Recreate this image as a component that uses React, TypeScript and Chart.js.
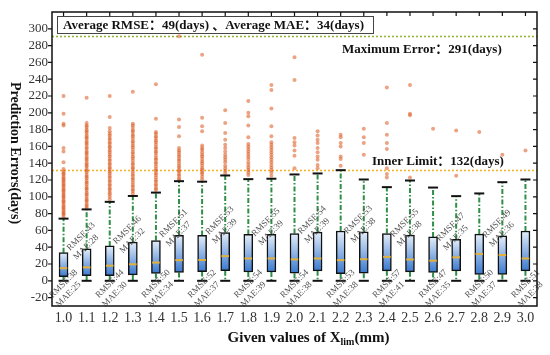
import React, { useEffect, useRef } from 'react';
import { Chart, registerables } from 'chart.js';

Chart.register(...registerables);

const categories = ['1.0', '1.1', '1.2', '1.3', '1.4', '1.5', '1.6', '1.7', '1.8', '1.9', '2.0', '2.1', '2.2', '2.3', '2.4', '2.5', '2.6', '2.7', '2.8', '2.9', '3.0'];
const yTicks = [-20, 0, 20, 40, 60, 80, 100, 120, 140, 160, 180, 200, 220, 240, 260, 280, 300];

const whiskerLow = [0, 0, 0, 0, 0, 0, 0, 0, 0, 0, 0, 0, 0, 0, 0, 0, 0, 0, 0, 0, 0];
const q1 = [5, 6, 6, 7, 8.8, 10, 11, 12, 10.5, 10.5, 9.1, 11.9, 8.5, 9.1, 11.9, 10.7, 10, 11.9, 7.5, 7.5, 11.9];
const median = [15, 16, 18, 19.7, 21.7, 24.6, 24.8, 29.4, 26.6, 26.6, 25.5, 26.6, 24.6, 25.7, 28.5, 25.4, 24, 28, 32, 30.7, 26.6];
const q3 = [33.5, 38.2, 41.5, 46, 48, 54, 54, 57.4, 55.2, 55.2, 56.2, 58, 59.3, 58.3, 56.2, 54.4, 52.2, 49.5, 55.6, 53.4, 59.3];
const whiskerHigh = [74, 85, 94, 101, 105, 118.6, 118, 125.4, 121, 121.5, 126.6, 127.8, 131.7, 120.6, 111.5, 119.4, 111, 100.8, 104, 117.4, 120.6];

const rmse = [38, 43, 44, 46, 50, 51, 52, 53, 54, 55, 54, 54, 53, 53, 57, 55, 47, 47, 50, 49, 51];
const mae = [25, 28, 30, 32, 34, 37, 37, 39, 39, 39, 38, 39, 38, 38, 41, 38, 35, 35, 37, 36, 38];

const out10 = [220, 199, 187, 185, 158, 154, 141, 133, 130, 128, 126.5, 124, 122, 120, 118.5, 116, 114, 112.5, 110, 108, 106.5, 104, 102, 100, 98.5, 96, 94, 92.5, 90, 88, 86.5, 84, 82, 80, 78.5, 76];
const out11 = [218, 188, 185, 183, 180, 178, 176, 173, 171, 169, 166, 164, 162, 159, 157, 154, 152, 150, 147, 145, 143, 140, 138, 136, 133, 131, 129, 126, 124, 122, 119, 117, 115, 112, 110, 108, 105, 103, 101, 98, 96, 94, 91, 89, 87];
const out12 = [220, 195, 182, 178, 175, 173, 170, 168, 165, 163, 160, 158, 155, 153, 150, 148, 145, 143, 140, 138, 135, 133, 130, 128, 125, 123, 120, 118, 115, 113, 110, 108, 105, 103, 100, 97];
const out13 = [225, 187, 185, 182, 179, 177, 174, 172, 169, 166, 164, 161, 159, 156, 153, 151, 148, 146, 143, 140, 138, 135, 133, 130, 127, 125, 122, 120, 117, 114, 112, 109, 107, 104];
const out14 = [234, 193, 177, 175, 172, 170, 167, 165, 162, 159, 157, 154, 152, 149, 146, 144, 141, 139, 136, 133, 131, 128, 126, 123, 120, 118, 115, 113, 110, 108];
const out15 = [291, 192, 183, 172, 158, 155, 153, 150, 148, 145, 143, 140, 137, 135, 132, 130, 127, 125, 122, 120];
const out16 = [269, 194, 184, 178, 161, 158, 156, 153, 150, 148, 145, 142, 140, 137, 134, 132, 129, 127, 124, 121];
const out17 = [203, 188, 176, 168, 162, 158, 154, 150, 147, 144, 141, 137, 134, 131, 128];
const out18 = [214, 200, 196, 185, 171, 163, 160, 157, 154, 151, 148, 145, 141, 138, 135, 132, 129, 126];
const out19 = [233, 227, 205, 184, 172, 165, 162, 159, 156, 153, 150, 147, 144, 141, 138, 135, 132, 129, 125];
const out20 = [266, 239, 170, 165, 161, 155, 149, 134];
const out21 = [178, 173, 168, 164, 158, 153, 148, 144, 138, 134];
const out22 = [174, 171, 164, 160, 148, 145, 137];
const out23 = [181, 171, 164, 150];
const out24 = [230, 188, 174, 164, 157, 134, 127, 123];
const out25 = [233, 199, 197, 123];
const out26 = [181];
const out27 = [179, 125];
const out28 = [177];
const out29 = [150];
const out30 = [155];
const outliers = [out10, out11, out12, out13, out14, out15, out16, out17, out18, out19, out20, out21, out22, out23, out24, out25, out26, out27, out28, out29, out30];

const maxError = 291;
const innerLimit = 132;
const avgRmse = 49;
const avgMae = 34;

const SERIF = '"Liberation Serif", "Times New Roman", "Noto Sans CJK SC", serif';

const decorPlugin = {
  id: 'boxDecor',
  beforeDatasetsDraw(chart: any) {
    const { ctx, chartArea: a, scales } = chart;
    const x = scales.x;
    const y = scales.y;
    ctx.save();
    const refLine = (v: number, color: string) => {
      const py = Math.round(y.getPixelForValue(v)) + 0.5;
      ctx.strokeStyle = color;
      ctx.lineWidth = 1.6;
      ctx.setLineDash([2, 2]);
      ctx.beginPath();
      ctx.moveTo(a.left, py);
      ctx.lineTo(a.right, py);
      ctx.stroke();
    };
    refLine(maxError, '#95b73a');
    refLine(innerLimit, '#f2b52a');
    ctx.strokeStyle = '#2f8f47';
    ctx.lineWidth = 2;
    ctx.setLineDash([5, 2, 1.5, 2]);
    categories.forEach((_, i) => {
      const px = x.getPixelForValue(i);
      ctx.beginPath();
      ctx.moveTo(px, y.getPixelForValue(q3[i]));
      ctx.lineTo(px, y.getPixelForValue(whiskerHigh[i]));
      ctx.moveTo(px, y.getPixelForValue(q1[i]));
      ctx.lineTo(px, y.getPixelForValue(whiskerLow[i]));
      ctx.stroke();
    });
    ctx.restore();
  },
  afterDatasetsDraw(chart: any) {
    const { ctx, scales } = chart;
    const x = scales.x;
    const y = scales.y;
    ctx.save();
    ctx.setLineDash([]);
    ctx.strokeStyle = '#111';
    ctx.lineWidth = 2;
    categories.forEach((_, i) => {
      const px = x.getPixelForValue(i);
      [whiskerHigh[i], whiskerLow[i]].forEach((v) => {
        const py = y.getPixelForValue(v);
        ctx.beginPath();
        ctx.moveTo(px - 5, py);
        ctx.lineTo(px + 5, py);
        ctx.stroke();
      });
    });
    ctx.strokeStyle = '#e2b23a';
    ctx.lineWidth = 2;
    categories.forEach((_, i) => {
      const px = x.getPixelForValue(i);
      const py = y.getPixelForValue(median[i]);
      ctx.beginPath();
      ctx.moveTo(px - 3.8, py);
      ctx.lineTo(px + 3.8, py);
      ctx.stroke();
    });
    ctx.font = '9px ' + SERIF;
    ctx.fillStyle = '#505050';
    ctx.textAlign = 'center';
    ctx.textBaseline = 'middle';
    categories.forEach((_, i) => {
      const px = x.getPixelForValue(i);
      let cx: number;
      let cy: number;
      if (i % 2 === 0) {
        cx = px;
        cy = y.getPixelForValue(0) + 3;
      } else {
        cx = px - 5.5;
        cy = y.getPixelForValue(q3[i]) - 12;
      }
      ctx.save();
      ctx.translate(cx, cy);
      ctx.rotate(-Math.PI / 4);
      ctx.fillText('RMSE:' + rmse[i], 0, 0);
      ctx.fillText('MAE:' + mae[i], -4, 11);
      ctx.restore();
    });
    ctx.restore();
  },
  afterDraw(chart: any) {
    const { ctx, chartArea: a, scales } = chart;
    const x = scales.x;
    const y = scales.y;
    ctx.save();
    ctx.strokeStyle = '#111';
    ctx.lineWidth = 1.5;
    ctx.setLineDash([]);
    ctx.strokeRect(a.left, a.top, a.right - a.left, a.bottom - a.top);
    ctx.lineWidth = 1.2;
    yTicks.forEach((v) => {
      const py = y.getPixelForValue(v);
      ctx.beginPath();
      ctx.moveTo(a.left - 4, py);
      ctx.lineTo(a.left, py);
      ctx.moveTo(a.right - 4, py);
      ctx.lineTo(a.right, py);
      ctx.stroke();
    });
    categories.forEach((_, i) => {
      const px = x.getPixelForValue(i);
      ctx.beginPath();
      ctx.moveTo(px, a.top);
      ctx.lineTo(px, a.top + 4);
      ctx.stroke();
    });
    ctx.fillStyle = '#fff';
    ctx.fillRect(57.5, 16.5, 316, 17);
    ctx.strokeStyle = '#444';
    ctx.lineWidth = 1;
    ctx.strokeRect(57.5, 16.5, 316, 17);
    ctx.fillStyle = '#111';
    ctx.font = 'bold 13px ' + SERIF;
    ctx.textAlign = 'left';
    ctx.textBaseline = 'middle';
    ctx.fillText('Average RMSE：' + avgRmse + '(days) 、Average MAE：' + avgMae + '(days)', 63, 25.5);
    ctx.fillText('Maximum Error：' + maxError + '(days)', 342, y.getPixelForValue(maxError) + 13);
    ctx.fillText('Inner Limit：' + innerLimit + '(days)', 372, y.getPixelForValue(innerLimit) - 8.5);
    ctx.save();
    ctx.font = 'bold 14px ' + SERIF;
    ctx.textAlign = 'center';
    ctx.translate(15, 153);
    ctx.rotate(Math.PI / 2);
    ctx.fillText('Prediction Errors(days)', 0, 0);
    ctx.restore();
    const main = 'Given values of X';
    const sub = 'lim';
    const tail = '(mm)';
    ctx.font = 'bold 15px ' + SERIF;
    const w1 = ctx.measureText(main).width;
    const w3 = ctx.measureText(tail).width;
    ctx.font = 'bold 10px ' + SERIF;
    const w2 = ctx.measureText(sub).width;
    const total = w1 + w2 + w3;
    let sx = (a.left + a.right) / 2 - total / 2 + 14;
    const ty = 338;
    ctx.font = 'bold 15px ' + SERIF;
    ctx.fillText(main, sx, ty);
    sx += w1;
    ctx.font = 'bold 10px ' + SERIF;
    ctx.fillText(sub, sx, ty + 4);
    sx += w2;
    ctx.font = 'bold 15px ' + SERIF;
    ctx.fillText(tail, sx, ty);
    ctx.restore();
  },
};

export default function App() {
  const ref = useRef<HTMLCanvasElement | null>(null);
  useEffect(() => {
    if (!ref.current) return;
    const points: { x: string; y: number }[] = [];
    outliers.forEach((arr, i) => arr.forEach((v) => points.push({ x: categories[i], y: v })));
    const chart = new Chart(ref.current, {
      type: 'bar',
      data: {
        labels: categories,
        datasets: [
          {
            type: 'bar',
            data: categories.map((_, i) => [q1[i], q3[i]]) as any,
            barThickness: 9,
            borderWidth: 1.5,
            borderColor: '#111',
            borderSkipped: false,
            backgroundColor: (c: any) => {
              const ch = c.chart;
              const ys = ch.scales && ch.scales.y;
              const i = c.dataIndex;
              if (!ys || i === undefined) return '#7aa8e0';
              const top = ys.getPixelForValue(q3[i]);
              const bot = ys.getPixelForValue(q1[i]);
              if (!isFinite(top) || !isFinite(bot)) return '#7aa8e0';
              const g = ch.ctx.createLinearGradient(0, top, 0, bot);
              g.addColorStop(0, '#e4eefa');
              g.addColorStop(1, '#3a79cf');
              return g;
            },
          } as any,
          {
            type: 'scatter',
            data: points as any,
            pointRadius: 2,
            pointBorderWidth: 0,
            pointBackgroundColor: 'rgba(218, 88, 30, 0.55)',
            pointBorderColor: 'rgba(0,0,0,0)',
          } as any,
        ],
      },
      options: {
        animation: false,
        responsive: false,
        devicePixelRatio: 1,
        events: [],
        layout: { padding: { top: 12, right: 13, left: 0, bottom: 0 } },
        plugins: { legend: { display: false }, tooltip: { enabled: false }, title: { display: false } },
        scales: {
          x: {
            type: 'category',
            offset: true,
            grid: { display: false, drawTicks: false },
            border: { display: false },
            ticks: { font: { family: SERIF, size: 14 }, color: '#333', padding: 4, maxRotation: 0, autoSkip: false },
            afterFit: (s: any) => {
              s.height = 49;
            },
          },
          y: {
            type: 'linear',
            min: -30,
            max: 320,
            grid: { display: false, drawTicks: false },
            border: { display: false },
            ticks: { font: { family: SERIF, size: 13 }, color: '#333', padding: 4, autoSkip: false },
            afterBuildTicks: (s: any) => {
              s.ticks = yTicks.map((v) => ({ value: v }));
            },
            afterFit: (s: any) => {
              s.width = 52;
            },
          },
        },
      },
      plugins: [decorPlugin],
    });
    return () => chart.destroy();
  }, []);
  return (
    <div style={{ position: 'absolute', left: 0, top: 0, width: 550, height: 355, background: '#fff' }}>
      <canvas ref={ref} width={550} height={355} style={{ display: 'block' }} />
    </div>
  );
}
